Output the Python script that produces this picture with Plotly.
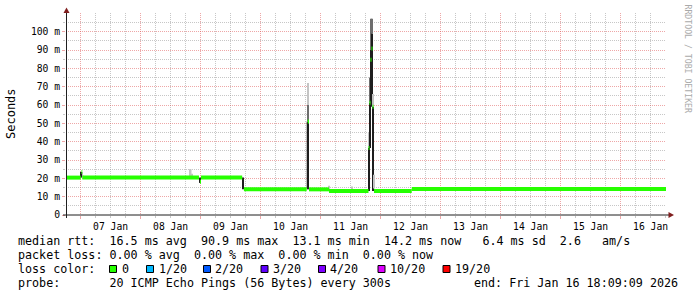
import plotly.graph_objects as go
import pandas as pd

# ---------------- data ----------------
START = "2026-01-06 18:09:09"
END = "2026-01-16 18:09:09"

# median rtt (seconds shown in ms units), step segments
med_start = ["2026-01-06 18:09:09", "2026-01-07 00:21", "2026-01-07 00:40", "2026-01-08 23:45",
             "2026-01-09 00:09", "2026-01-09 17:19", "2026-01-10 18:50", "2026-01-10 19:21",
             "2026-01-11 03:21", "2026-01-11 19:09", "2026-01-11 19:33", "2026-01-11 19:57",
             "2026-01-11 20:21", "2026-01-11 20:45", "2026-01-11 21:21", "2026-01-12 12:27"]
med_end = ["2026-01-07 00:02", "2026-01-07 00:40", "2026-01-08 23:21", "2026-01-09 00:09",
           "2026-01-09 16:38", "2026-01-10 18:26", "2026-01-10 19:21", "2026-01-11 03:21",
           "2026-01-11 19:09", "2026-01-11 19:33", "2026-01-11 19:57", "2026-01-11 20:21",
           "2026-01-11 20:45", "2026-01-11 21:09", "2026-01-12 12:27", "2026-01-16 18:09:09"]
med_val = [20.4, 23.5, 20.4, 18.2, 20.4, 14.0, 51.0, 14.0, 13.1, 36.6, 61.2, 84.7, 90.9, 59.0, 13.1, 14.2]

# smoke (ping spread) bins
smoke_start = ["2026-01-07 00:02", "2026-01-07 00:40", "2026-01-08 19:45", "2026-01-08 20:21",
               "2026-01-08 23:21", "2026-01-09 16:38", "2026-01-10 18:26", "2026-01-10 18:50",
               "2026-01-10 18:50", "2026-01-11 03:09", "2026-01-11 12:15",
               "2026-01-11 19:09", "2026-01-11 19:09", "2026-01-11 19:33", "2026-01-11 19:33",
               "2026-01-11 19:57", "2026-01-11 19:57", "2026-01-11 20:21", "2026-01-11 20:21",
               "2026-01-11 20:45", "2026-01-11 20:45", "2026-01-11 21:09"]
smoke_end = ["2026-01-07 00:40", "2026-01-07 01:20", "2026-01-08 20:21", "2026-01-08 20:57",
             "2026-01-09 00:09", "2026-01-09 17:19", "2026-01-10 19:21", "2026-01-10 19:21",
             "2026-01-10 19:21", "2026-01-11 03:33", "2026-01-11 12:39",
             "2026-01-11 19:33", "2026-01-11 19:33", "2026-01-11 19:57", "2026-01-11 19:57",
             "2026-01-11 20:21", "2026-01-11 20:21", "2026-01-11 20:45", "2026-01-11 20:45",
             "2026-01-11 21:09", "2026-01-11 21:09", "2026-01-11 21:33"]
smoke_lo = [20.4, 20.4, 20.4, 20.4, 17.5, 14.0, 14.0, 51.0, 60.0, 14.0, 13.1,
            13.1, 36.6, 36.6, 61.2, 61.2, 90.0, 59.0, 99.0, 13.1, 59.0, 14.5]
smoke_hi = [23.5, 21.6, 25.0, 22.5, 20.4, 20.4, 51.0, 60.0, 72.0, 16.0, 15.5,
            36.6, 45.0, 61.2, 75.0, 90.0, 107.0, 99.0, 107.0, 59.0, 66.0, 22.0]
smoke_density = ["dense", "sparse", "sparse", "sparse", "dense", "dense", "dense", "mid", "sparse",
                 "sparse", "sparse", "dense", "sparse", "dense", "mid", "dense", "mid", "dense", "mid",
                 "dense", "sparse", "sparse"]

y_tick_vals = [0, 10, 20, 30, 40, 50, 60, 70, 80, 90, 100]
y_tick_text = ["0", "10 m", "20 m", "30 m", "40 m", "50 m", "60 m", "70 m", "80 m", "90 m", "100 m"]
y_minor_vals = [5, 15, 25, 35, 45, 55, 65, 75, 85, 95, 105]

loss_labels = ["0", "1/20", "2/20", "3/20", "4/20", "10/20", "19/20"]
loss_colors = ["#26ff00", "#00b8ff", "#0059ff", "#5e00ff", "#7e00ff", "#dd00ff", "#ff0000"]

legend_line1 = "median rtt:  16.5 ms avg  90.9 ms max  13.1 ms min  14.2 ms now   6.4 ms sd  2.6   am/s"
legend_line2 = "packet loss: 0.00 % avg  0.00 % max  0.00 % min  0.00 % now"
legend_line3 = "loss color:"
legend_line4 = "probe:       20 ICMP Echo Pings (56 Bytes) every 300s"
end_text = "end: Fri Jan 16 18:09:09 2026"
watermark = "RRDTOOL / TOBI OETIKER"
y_title = "Seconds"

# ---------------- layout constants ----------------
W, H = 697, 297
PL, PR, PT, PB = 66, 666, 13, 215
MONO = "DejaVu Sans Mono"


def fx(px):
    return (px - PL) / (PR - PL)


def fy(py):
    return (PB - py) / (PB - PT)


shade = {"dense": "#1e1e1e", "mid": "#6e6e6e", "sparse": "#c4c4c4"}

fig = go.Figure()

# smoke
s0 = pd.to_datetime(smoke_start)
s1 = pd.to_datetime(smoke_end)
centers = s0 + (s1 - s0) / 2
widths = [(b - a).total_seconds() * 1000 for a, b in zip(s0, s1)]
fig.add_trace(go.Bar(
    x=centers, y=[h - l for l, h in zip(smoke_lo, smoke_hi)], base=smoke_lo, width=widths,
    marker=dict(color=[shade[d] for d in smoke_density], line=dict(width=0)),
    hoverinfo="skip", showlegend=False))

# median
xs, ys = [], []
for a, b, v in zip(med_start, med_end, med_val):
    xs += [a, b, None]
    ys += [v, v, None]
fig.add_trace(go.Scatter(x=xs, y=ys, mode="lines", connectgaps=False,
                         line=dict(color=loss_colors[0], width=4),
                         hoverinfo="skip", showlegend=False))

MAJ = "rgba(222,79,79,0.5)"
MIN = "rgba(143,143,143,0.5)"

fig.update_layout(
    width=W, height=H, margin=dict(l=PL, r=W - PR, t=PT, b=H - PB, pad=0),
    paper_bgcolor="white", plot_bgcolor="white", barmode="overlay",
    showlegend=False, hovermode=False,
    font=dict(family=MONO, size=9.7, color="black"),
    xaxis=dict(type="date", range=[START, END], tick0="2026-01-07 00:00:00", dtick=86400000,
               ticklabelmode="period", tickformat="%d %b", ticklabelstandoff=-1,
               showgrid=True, gridcolor=MAJ, griddash="1px,1px", gridwidth=1,
               ticks="outside", ticklen=3, tickcolor=MAJ, showline=False, zeroline=False,
               tickfont=dict(family=MONO, size=9.7, color="black"),
               minor=dict(tick0="2026-01-07 00:00:00", dtick=6 * 3600000, showgrid=True,
                          gridcolor=MIN, griddash="1px,1px", gridwidth=1,
                          ticks="outside", ticklen=2, tickcolor=MIN)),
    yaxis=dict(range=[0, 110.2], tickmode="array", tickvals=y_tick_vals, ticktext=y_tick_text,
               showgrid=True, gridcolor=MAJ, griddash="1px,1px", gridwidth=1,
               ticks="outside", ticklen=3, tickcolor=MAJ, showline=False, zeroline=False,
               tickfont=dict(family=MONO, size=9.7, color="black"),
               minor=dict(tickvals=y_minor_vals, showgrid=True, gridcolor=MIN, griddash="1px,1px",
                          gridwidth=1, ticks="outside", ticklen=2, tickcolor=MIN)),
)

shapes = []
# axes
shapes.append(dict(type="line", xref="paper", yref="paper", x0=fx(66.5), x1=fx(66.5), y0=fy(218), y1=fy(10),
                   line=dict(color="#1f1f1f", width=1)))
shapes.append(dict(type="line", xref="paper", yref="paper", x0=fx(63), x1=fx(670), y0=fy(215), y1=fy(215),
                   line=dict(color="#1f1f1f", width=1)))
# arrows
shapes.append(dict(type="path", xref="paper", yref="paper",
                   path=f"M {fx(63.5)} {fy(13)} L {fx(69.5)} {fy(13)} L {fx(66.5)} {fy(7.5)} Z",
                   fillcolor="#801f1f", line=dict(width=0)))
shapes.append(dict(type="path", xref="paper", yref="paper",
                   path=f"M {fx(668.5)} {fy(212)} L {fx(668.5)} {fy(218)} L {fx(674)} {fy(215)} Z",
                   fillcolor="#801f1f", line=dict(width=0)))

annotations = []


def txt(s, px, py, size=11.7, anchor="left", color="black", angle=0):
    annotations.append(dict(text=s.replace(" ", "\u00a0"), xref="paper", yref="paper", x=fx(px), y=fy(py),
                            xanchor=anchor, yanchor="middle", showarrow=False, textangle=angle,
                            font=dict(family=MONO, size=size, color=color)))


txt(legend_line1, 16, 241.5)
txt(legend_line2, 16, 255.3)
txt(legend_line3, 16, 269)
txt(legend_line4, 16, 282.8)
txt(end_text, 680, 282.8, anchor="right")

sq_x = [109.5, 146.5, 203.5, 261, 318.5, 378, 443]
lab_x = [120, 156.7, 213.3, 270.7, 328, 387.7, 453.3]
for c, lab, sx, lx in zip(loss_colors, loss_labels, sq_x, lab_x):
    shapes.append(dict(type="rect", xref="paper", yref="paper", x0=fx(sx), x1=fx(sx + 7), y0=fy(272.5),
                       y1=fy(265.5), fillcolor=c, line=dict(color="black", width=1)))
    txt(lab, lx, 269)

annotations.append(dict(text=y_title, xref="paper", yref="paper", x=fx(11), y=fy(114), xanchor="center",
                        yanchor="middle", showarrow=False, textangle=-90,
                        font=dict(family=MONO, size=12, color="black")))
annotations.append(dict(text=watermark, xref="paper", yref="paper", x=fx(687.5), y=fy(59), xanchor="center",
                        yanchor="middle", showarrow=False, textangle=90,
                        font=dict(family=MONO, size=8.2, color="#aaaaaa")))

fig.update_layout(shapes=shapes, annotations=annotations)
fig.write_html("out.html")
